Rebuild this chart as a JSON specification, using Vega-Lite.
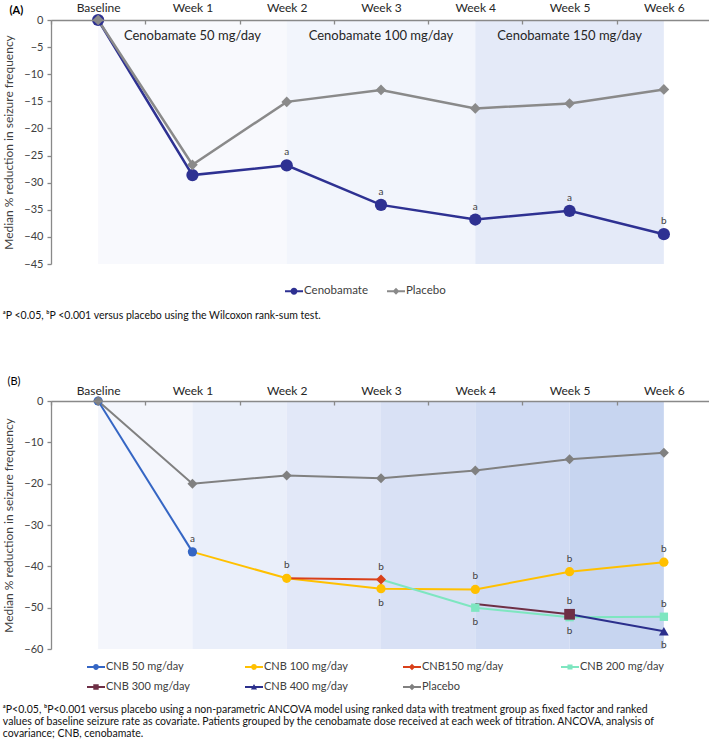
{
  "$schema": "https://vega.github.io/schema/vega-lite/v6.json",
  "background": "white",
  "padding": {"left": 2, "top": 1, "right": 0, "bottom": 0},
  "config": {
    "font": "Lato",
    "view": {"stroke": null},
    "axis": {"grid": false, "labelFont": "Lato", "titleFont": "Lato", "domainColor": "#898989", "tickColor": "#898989", "domainWidth": 1.3, "tickWidth": 1.3},
    "axisY": {"labelOverlap": false},
    "legend": {"labelFont": "Lato", "titleFont": "Lato"},
    "title": {"font": "Lato"}
  },
  "datasets": {
    "regionsA": [
      {"start": "Baseline", "end": "Week 2", "dose": "Cenobamate 50 mg/day", "labelAt": "Week 1"},
      {"start": "Week 2", "end": "Week 4", "dose": "Cenobamate 100 mg/day", "labelAt": "Week 3"},
      {"start": "Week 4", "end": "Week 6", "dose": "Cenobamate 150 mg/day", "labelAt": "Week 5"}
    ],
    "seriesA": [
      {"series": "Cenobamate", "week": "Baseline", "value": 0},
      {"series": "Cenobamate", "week": "Week 1", "value": -28.6},
      {"series": "Cenobamate", "week": "Week 2", "value": -26.8},
      {"series": "Cenobamate", "week": "Week 3", "value": -34.1},
      {"series": "Cenobamate", "week": "Week 4", "value": -36.8},
      {"series": "Cenobamate", "week": "Week 5", "value": -35.2},
      {"series": "Cenobamate", "week": "Week 6", "value": -39.5},
      {"series": "Placebo", "week": "Baseline", "value": 0},
      {"series": "Placebo", "week": "Week 1", "value": -26.7},
      {"series": "Placebo", "week": "Week 2", "value": -15.1},
      {"series": "Placebo", "week": "Week 3", "value": -12.9},
      {"series": "Placebo", "week": "Week 4", "value": -16.3},
      {"series": "Placebo", "week": "Week 5", "value": -15.4},
      {"series": "Placebo", "week": "Week 6", "value": -12.8}
    ],
    "annotA": [
      {"week": "Week 2", "value": -26.8, "label": "a"},
      {"week": "Week 3", "value": -34.1, "label": "a"},
      {"week": "Week 4", "value": -36.8, "label": "a"},
      {"week": "Week 5", "value": -35.2, "label": "a"},
      {"week": "Week 6", "value": -39.5, "label": "b"}
    ],
    "regionsB": [
      {"start": "Baseline", "end": "Week 1", "dose": "50"},
      {"start": "Week 1", "end": "Week 2", "dose": "100"},
      {"start": "Week 2", "end": "Week 3", "dose": "150"},
      {"start": "Week 3", "end": "Week 4", "dose": "200"},
      {"start": "Week 4", "end": "Week 5", "dose": "300"},
      {"start": "Week 5", "end": "Week 6", "dose": "400"}
    ],
    "seriesB": [
      {"series": "CNB 100 mg/day", "week": "Week 1", "value": -36.5, "kind": "link"},
      {"series": "CNB 100 mg/day", "week": "Week 2", "value": -42.9, "kind": "value"},
      {"series": "CNB 100 mg/day", "week": "Week 3", "value": -45.4, "kind": "value"},
      {"series": "CNB 100 mg/day", "week": "Week 4", "value": -45.6, "kind": "value"},
      {"series": "CNB 100 mg/day", "week": "Week 5", "value": -41.3, "kind": "value"},
      {"series": "CNB 100 mg/day", "week": "Week 6", "value": -39.0, "kind": "value"},
      {"series": "CNB 50 mg/day", "week": "Baseline", "value": 0, "kind": "value"},
      {"series": "CNB 50 mg/day", "week": "Week 1", "value": -36.5, "kind": "value"},
      {"series": "CNB150 mg/day", "week": "Week 2", "value": -42.9, "kind": "link"},
      {"series": "CNB150 mg/day", "week": "Week 3", "value": -43.2, "kind": "value"},
      {"series": "CNB 200 mg/day", "week": "Week 3", "value": -43.2, "kind": "link"},
      {"series": "CNB 200 mg/day", "week": "Week 4", "value": -50.0, "kind": "value"},
      {"series": "CNB 200 mg/day", "week": "Week 5", "value": -52.3, "kind": "value"},
      {"series": "CNB 200 mg/day", "week": "Week 6", "value": -52.2, "kind": "value"},
      {"series": "CNB 300 mg/day", "week": "Week 4", "value": -49.1, "kind": "link"},
      {"series": "CNB 300 mg/day", "week": "Week 5", "value": -51.6, "kind": "value"},
      {"series": "CNB 400 mg/day", "week": "Week 5", "value": -51.6, "kind": "link"},
      {"series": "CNB 400 mg/day", "week": "Week 6", "value": -55.7, "kind": "value"},
      {"series": "Placebo", "week": "Baseline", "value": 0, "kind": "value"},
      {"series": "Placebo", "week": "Week 1", "value": -20.0, "kind": "value"},
      {"series": "Placebo", "week": "Week 2", "value": -18.0, "kind": "value"},
      {"series": "Placebo", "week": "Week 3", "value": -18.7, "kind": "value"},
      {"series": "Placebo", "week": "Week 4", "value": -16.8, "kind": "value"},
      {"series": "Placebo", "week": "Week 5", "value": -14.1, "kind": "value"},
      {"series": "Placebo", "week": "Week 6", "value": -12.5, "kind": "value"}
    ],
    "annotBAbove": [
      {"week": "Week 1", "value": -36.5, "label": "a"},
      {"week": "Week 2", "value": -42.9, "label": "b"},
      {"week": "Week 3", "value": -43.2, "label": "b"},
      {"week": "Week 4", "value": -45.6, "label": "b"},
      {"week": "Week 5", "value": -41.3, "label": "b"},
      {"week": "Week 6", "value": -39.0, "label": "b"},
      {"week": "Week 5", "value": -51.6, "label": "b"},
      {"week": "Week 6", "value": -52.2, "label": "b"}
    ],
    "annotBBelow": [
      {"week": "Week 3", "value": -45.4, "label": "b"},
      {"week": "Week 4", "value": -50.0, "label": "b"},
      {"week": "Week 5", "value": -52.3, "label": "b"},
      {"week": "Week 6", "value": -55.7, "label": "b"}
    ]
  },
  "spacing": 53,
  "resolve": {
    "scale": {"x": "independent", "y": "independent", "color": "independent", "fill": "independent", "shape": "independent"},
    "legend": {"color": "independent", "shape": "independent"}
  },
  "vconcat": [
    {
      "width": 660,
      "height": 244,
      "title": {"text": "ᵃP <0.05, ᵇP <0.001 versus placebo using the Wilcoxon rank-sum test.", "orient": "bottom", "anchor": "start", "frame": "bounds", "fontSize": 10.5, "fontWeight": "normal", "color": "#111111", "offset": 14},
      "layer": [
        {
          "data": {"name": "regionsA"},
          "mark": {"type": "rect"},
          "encoding": {
            "x": {"field": "start", "type": "nominal", "bandPosition": 0.5,
              "scale": {"type": "band", "domain": ["Baseline", "Week 1", "Week 2", "Week 3", "Week 4", "Week 5", "Week 6"], "paddingInner": 0, "paddingOuter": 0},
              "axis": {"orient": "top", "title": "(A)", "titleX": -42, "titleY": -10, "titleAlign": "left", "titleBaseline": "middle", "titleFontSize": 11, "titleFontWeight": "bold", "titleColor": "#000000", "labelAngle": 0, "labelFontSize": 12, "labelColor": "#262626", "labelPadding": 10, "tickBand": "extent", "tickSize": -4}},
            "x2": {"field": "end", "bandPosition": 0.5},
            "y": {"datum": 0, "type": "quantitative", "scale": {"domain": [-45, 0], "nice": false, "zero": false}},
            "y2": {"datum": -45},
            "fill": {"field": "dose", "type": "nominal", "scale": {"domain": ["Cenobamate 50 mg/day", "Cenobamate 100 mg/day", "Cenobamate 150 mg/day"], "range": ["#f8f9fd", "#f2f5fc", "#e4eaf8"]}, "legend": null}
          }
        },
        {
          "data": {"name": "regionsA"},
          "mark": {"type": "text", "fontSize": 13, "color": "#262626", "baseline": "middle"},
          "encoding": {
            "x": {"field": "labelAt", "type": "nominal", "bandPosition": 0.5},
            "y": {"datum": -3, "type": "quantitative"},
            "text": {"field": "dose"}
          }
        },
        {
          "data": {"name": "seriesA"},
          "mark": {"type": "point", "filled": true, "opacity": 0},
          "encoding": {
            "x": {"field": "week", "type": "nominal", "bandPosition": 0.5},
            "y": {"field": "value", "type": "quantitative"},
            "color": {"field": "series", "type": "nominal", "scale": {"domain": ["Cenobamate", "Placebo"], "range": ["#2e3192", "#8a8a8a"]},
              "legend": {"title": null, "orient": "none", "legendX": 234, "legendY": 262, "direction": "horizontal", "symbolSize": 324, "symbolStrokeWidth": 0, "symbolOpacity": 1, "labelFontSize": 11.5, "labelColor": "#404040", "columnPadding": 19, "labelOffset": 1}},
            "shape": {"field": "series", "type": "nominal", "scale": {"domain": ["Cenobamate", "Placebo"], "range": ["M-1,-0.12H1V0.12H-1ZM-0.38,0A0.38,0.38 0 1,1 0.38,0A0.38,0.38 0 1,1 -0.38,0Z", "M-1,-0.12H1V0.12H-1ZM-0.38,0L0,-0.38L0.38,0L0,0.38Z"]}}
          }
        },
        {
          "data": {"name": "seriesA"},
          "mark": {"type": "line", "strokeWidth": 2.5},
          "encoding": {
            "x": {"field": "week", "type": "nominal", "bandPosition": 0.5},
            "y": {"field": "value", "type": "quantitative",
              "axis": {"title": "Median % reduction in seizure frequency", "tickCount": 10, "labelOverlap": false, "labelSeparation": 0, "tickSize": 4, "labelPadding": 4, "labelFontSize": 11, "labelColor": "#404040", "titleFontSize": 12, "titleFontWeight": "normal", "titleColor": "#404040", "titlePadding": 8}},
            "color": {"field": "series", "type": "nominal"}
          }
        },
        {
          "data": {"name": "seriesA"},
          "transform": [{"filter": "datum.series === 'Cenobamate'"}],
          "mark": {"type": "point", "shape": "circle", "size": 150, "filled": true, "opacity": 1},
          "encoding": {
            "x": {"field": "week", "type": "nominal", "bandPosition": 0.5},
            "y": {"field": "value", "type": "quantitative"},
            "color": {"field": "series", "type": "nominal"}
          }
        },
        {
          "data": {"name": "seriesA"},
          "transform": [{"filter": "datum.series === 'Placebo'"}],
          "mark": {"type": "point", "shape": "diamond", "size": 115, "filled": true, "opacity": 1},
          "encoding": {
            "x": {"field": "week", "type": "nominal", "bandPosition": 0.5},
            "y": {"field": "value", "type": "quantitative"},
            "color": {"field": "series", "type": "nominal"}
          }
        },
        {
          "data": {"name": "annotA"},
          "mark": {"type": "text", "dy": -13, "fontSize": 10, "color": "#404040"},
          "encoding": {
            "x": {"field": "week", "type": "nominal", "bandPosition": 0.5},
            "y": {"field": "value", "type": "quantitative"},
            "text": {"field": "label"}
          }
        }
      ]
    },
    {
      "width": 660,
      "height": 248,
      "title": {"text": ["ᵃP<0.05, ᵇP<0.001 versus placebo using a non-parametric ANCOVA model using ranked data with treatment group as fixed factor and ranked", "values of baseline seizure rate as covariate. Patients grouped by the cenobamate dose received at each week of titration. ANCOVA, analysis of", "covariance; CNB, cenobamate."], "orient": "bottom", "anchor": "start", "frame": "bounds", "fontSize": 10.5, "lineHeight": 12, "fontWeight": "normal", "color": "#111111", "offset": 13},
      "layer": [
        {
          "data": {"name": "regionsB"},
          "mark": {"type": "rect"},
          "encoding": {
            "x": {"field": "start", "type": "nominal", "bandPosition": 0.5,
              "scale": {"type": "band", "domain": ["Baseline", "Week 1", "Week 2", "Week 3", "Week 4", "Week 5", "Week 6"], "paddingInner": 0, "paddingOuter": 0},
              "axis": {"orient": "top", "title": "(B)", "titleX": -44, "titleY": -20, "titleAlign": "left", "titleBaseline": "middle", "titleFontSize": 11, "titleFontWeight": "normal", "titleColor": "#000000", "labelAngle": 0, "labelFontSize": 12, "labelColor": "#262626", "labelPadding": 8, "tickBand": "extent", "tickSize": -4}},
            "x2": {"field": "end", "bandPosition": 0.5},
            "y": {"datum": 0, "type": "quantitative", "scale": {"domain": [-60, 0], "nice": false, "zero": false}},
            "y2": {"datum": -60},
            "fill": {"field": "dose", "type": "nominal", "scale": {"domain": ["50", "100", "150", "200", "300", "400"], "range": ["#f4f6fc", "#eaeffa", "#e2e8f8", "#d9e1f5", "#d0dbf3", "#c7d5f0"]}, "legend": null}
          }
        },
        {
          "data": {"name": "seriesB"},
          "mark": {"type": "point", "filled": true, "opacity": 0},
          "encoding": {
            "x": {"field": "week", "type": "nominal", "bandPosition": 0.5},
            "y": {"field": "value", "type": "quantitative"},
            "color": {"field": "series", "type": "nominal", "scale": {"domain": ["CNB 50 mg/day", "CNB 100 mg/day", "CNB150 mg/day", "CNB 200 mg/day", "CNB 300 mg/day", "CNB 400 mg/day", "Placebo"], "range": ["#3566c4", "#ffc000", "#d9401a", "#7ee6c0", "#6e2f45", "#2b2f8c", "#808080"]},
              "legend": {"title": null, "orient": "none", "legendX": 36, "legendY": 257, "direction": "horizontal", "columns": 4, "gridAlign": "all", "symbolSize": 324, "symbolStrokeWidth": 0, "symbolOpacity": 1, "labelFontSize": 11, "labelColor": "#404040", "columnPadding": 54, "rowPadding": 6, "labelOffset": 1}},
            "shape": {"field": "series", "type": "nominal", "scale": {"domain": ["CNB 50 mg/day", "CNB 100 mg/day", "CNB150 mg/day", "CNB 200 mg/day", "CNB 300 mg/day", "CNB 400 mg/day", "Placebo"],
              "range": [
                "M-1,-0.11H1V0.11H-1ZM-0.32,0A0.32,0.32 0 1,1 0.32,0A0.32,0.32 0 1,1 -0.32,0Z",
                "M-1,-0.11H1V0.11H-1ZM-0.32,0A0.32,0.32 0 1,1 0.32,0A0.32,0.32 0 1,1 -0.32,0Z",
                "M-1,-0.11H1V0.11H-1ZM-0.36,0L0,-0.36L0.36,0L0,0.36Z",
                "M-1,-0.11H1V0.11H-1ZM-0.28,-0.28H0.28V0.28H-0.28Z",
                "M-1,-0.11H1V0.11H-1ZM-0.3,-0.3H0.3V0.3H-0.3Z",
                "M-1,-0.11H1V0.11H-1ZM-0.34,0.28L0,-0.34L0.34,0.28Z",
                "M-1,-0.11H1V0.11H-1ZM-0.36,0L0,-0.36L0.36,0L0,0.36Z"
              ]}}
          }
        },
        {
          "data": {"name": "seriesB"},
          "mark": {"type": "line", "strokeWidth": 2},
          "encoding": {
            "x": {"field": "week", "type": "nominal", "bandPosition": 0.5},
            "y": {"field": "value", "type": "quantitative",
              "axis": {"title": "Median % reduction in seizure frequency", "values": [0, -10, -20, -30, -40, -50, -60], "labelOverlap": false, "tickSize": 4, "labelPadding": 4, "labelFontSize": 11, "labelColor": "#404040", "titleFontSize": 12, "titleFontWeight": "normal", "titleColor": "#404040", "titlePadding": 8}},
            "color": {"field": "series", "type": "nominal"}
          }
        },
        {
          "data": {"name": "seriesB"},
          "transform": [{"filter": "datum.kind === 'value' && (datum.series === 'CNB 50 mg/day' || datum.series === 'CNB 100 mg/day')"}],
          "mark": {"type": "point", "shape": "circle", "size": 85, "filled": true, "opacity": 1},
          "encoding": {
            "x": {"field": "week", "type": "nominal", "bandPosition": 0.5},
            "y": {"field": "value", "type": "quantitative"},
            "color": {"field": "series", "type": "nominal"}
          }
        },
        {
          "data": {"name": "seriesB"},
          "transform": [{"filter": "datum.kind === 'value' && datum.series === 'CNB 200 mg/day'"}],
          "mark": {"type": "point", "shape": "square", "size": 70, "filled": true, "opacity": 1},
          "encoding": {
            "x": {"field": "week", "type": "nominal", "bandPosition": 0.5},
            "y": {"field": "value", "type": "quantitative"},
            "color": {"field": "series", "type": "nominal"}
          }
        },
        {
          "data": {"name": "seriesB"},
          "transform": [{"filter": "datum.kind === 'value' && datum.series === 'CNB 300 mg/day'"}],
          "mark": {"type": "point", "shape": "square", "size": 115, "filled": true, "opacity": 1},
          "encoding": {
            "x": {"field": "week", "type": "nominal", "bandPosition": 0.5},
            "y": {"field": "value", "type": "quantitative"},
            "color": {"field": "series", "type": "nominal"}
          }
        },
        {
          "data": {"name": "seriesB"},
          "transform": [{"filter": "datum.kind === 'value' && datum.series === 'CNB 400 mg/day'"}],
          "mark": {"type": "point", "shape": "triangle-up", "size": 95, "filled": true, "opacity": 1},
          "encoding": {
            "x": {"field": "week", "type": "nominal", "bandPosition": 0.5},
            "y": {"field": "value", "type": "quantitative"},
            "color": {"field": "series", "type": "nominal"}
          }
        },
        {
          "data": {"name": "seriesB"},
          "transform": [{"filter": "datum.kind === 'value' && (datum.series === 'CNB150 mg/day' || datum.series === 'Placebo')"}],
          "mark": {"type": "point", "shape": "diamond", "size": 100, "filled": true, "opacity": 1},
          "encoding": {
            "x": {"field": "week", "type": "nominal", "bandPosition": 0.5},
            "y": {"field": "value", "type": "quantitative"},
            "color": {"field": "series", "type": "nominal"}
          }
        },
        {
          "data": {"name": "annotBAbove"},
          "mark": {"type": "text", "dy": -13, "fontSize": 10, "color": "#404040"},
          "encoding": {
            "x": {"field": "week", "type": "nominal", "bandPosition": 0.5},
            "y": {"field": "value", "type": "quantitative"},
            "text": {"field": "label"}
          }
        },
        {
          "data": {"name": "annotBBelow"},
          "mark": {"type": "text", "dy": 14, "fontSize": 10, "color": "#404040"},
          "encoding": {
            "x": {"field": "week", "type": "nominal", "bandPosition": 0.5},
            "y": {"field": "value", "type": "quantitative"},
            "text": {"field": "label"}
          }
        }
      ]
    }
  ]
}
